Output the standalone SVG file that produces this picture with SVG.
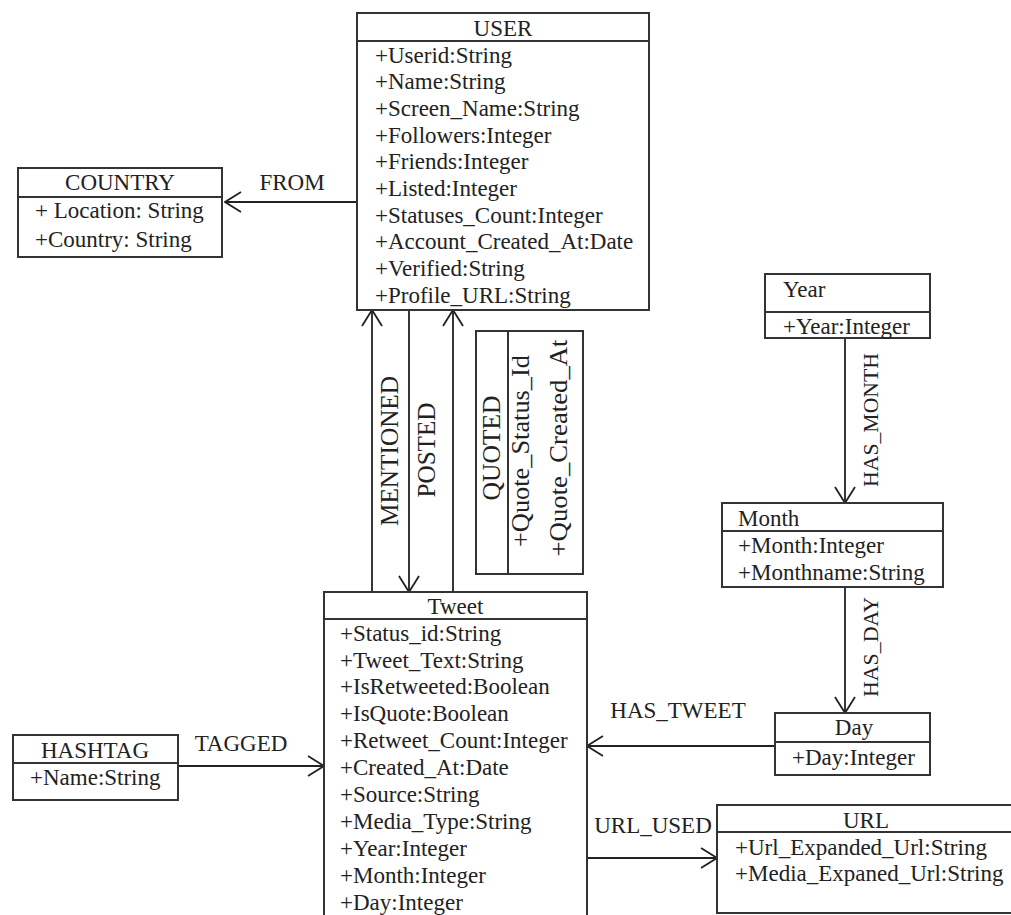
<svg xmlns="http://www.w3.org/2000/svg" width="1011" height="915" viewBox="0 0 1011 915">
<style>
text{font-family:"Liberation Serif","Times New Roman",serif;font-size:23px;fill:#222}
.box{fill:#fff;stroke:#333;stroke-width:2}
.div{stroke:#333;stroke-width:2;fill:none}
.c{text-anchor:middle}
.conn line{stroke:#222;stroke-width:1.8;fill:none}
.r{font-size:25px;text-anchor:middle}
.s{font-size:22px;text-anchor:middle}
</style>
<defs>
<marker id="arr" markerUnits="userSpaceOnUse" viewBox="0 0 18 22" markerWidth="18" markerHeight="22" refX="17" refY="11" orient="auto">
<path d="M1,1 L17,11 L1,21" fill="none" stroke="#222" stroke-width="1.8"/>
</marker>
</defs>
<rect width="1011" height="915" fill="#fff"/>

<g class="conn" id="connectors">
<line x1="357" y1="202" x2="225" y2="202" marker-end="url(#arr)"/>
<line x1="372" y1="592" x2="372" y2="310" marker-end="url(#arr)"/>
<line x1="409" y1="310" x2="409" y2="592" marker-end="url(#arr)"/>
<line x1="453" y1="592" x2="453" y2="310" marker-end="url(#arr)"/>
<line x1="845" y1="338" x2="845" y2="503" marker-end="url(#arr)"/>
<line x1="845" y1="587" x2="845" y2="713" marker-end="url(#arr)"/>
<line x1="775" y1="746" x2="587" y2="746" marker-end="url(#arr)"/>
<line x1="178" y1="766" x2="324" y2="766" marker-end="url(#arr)"/>
<line x1="587" y1="858" x2="717" y2="858" marker-end="url(#arr)"/>
<text class="c" x="292" y="190">FROM</text>
<text class="r" transform="translate(398,451) rotate(-90)" textLength="150" lengthAdjust="spacingAndGlyphs">MENTIONED</text>
<text class="r" transform="translate(435,450) rotate(-90)" textLength="95" lengthAdjust="spacingAndGlyphs">POSTED</text>
<text class="s" transform="translate(878,420) rotate(-90)" textLength="134" lengthAdjust="spacingAndGlyphs">HAS_MONTH</text>
<text class="s" transform="translate(878,647) rotate(-90)" textLength="100" lengthAdjust="spacingAndGlyphs">HAS_DAY</text>
<text class="c" x="678" y="717.6">HAS_TWEET</text>
<text class="c" x="241" y="750.6">TAGGED</text>
<text class="c" x="653" y="832.6">URL_USED</text>
</g>

<g id="quoted">
<rect class="box" x="476" y="331" width="107" height="243"/>
<line class="div" x1="508" y1="331" x2="508" y2="574"/>
<text class="r" transform="translate(500,448) rotate(-90)" textLength="105" lengthAdjust="spacingAndGlyphs">QUOTED</text>
<text class="r" transform="translate(529,451) rotate(-90)" textLength="192" lengthAdjust="spacingAndGlyphs">+Quote_Status_Id</text>
<text class="r" transform="translate(567,448) rotate(-90)" textLength="217" lengthAdjust="spacingAndGlyphs">+Quote_Created_At</text>
</g>

<g id="user">
<rect class="box" x="357" y="13" width="292" height="297"/>
<line class="div" x1="357" y1="41" x2="649" y2="41"/>
<text class="c" x="503" y="36">USER</text>
<text x="375" y="62.6">+Userid:String</text>
<text x="375" y="89.3">+Name:String</text>
<text x="375" y="115.9">+Screen_Name:String</text>
<text x="375" y="142.6">+Followers:Integer</text>
<text x="375" y="169.3">+Friends:Integer</text>
<text x="375" y="195.9">+Listed:Integer</text>
<text x="375" y="222.6">+Statuses_Count:Integer</text>
<text x="375" y="249.3">+Account_Created_At:Date</text>
<text x="375" y="275.9">+Verified:String</text>
<text x="375" y="302.6">+Profile_URL:String</text>
</g>

<g id="country">
<rect class="box" x="18" y="168" width="204" height="89"/>
<line class="div" x1="18" y1="197" x2="222" y2="197"/>
<text class="c" x="120" y="190">COUNTRY</text>
<text x="35" y="217.6">+ Location: String</text>
<text x="35" y="246.6">+Country: String</text>
</g>

<g id="year">
<rect class="box" x="765" y="274" width="165" height="64"/>
<line class="div" x1="765" y1="312" x2="930" y2="312"/>
<text x="783" y="296.6">Year</text>
<text x="783" y="333.6">+Year:Integer</text>
</g>

<g id="month">
<rect class="box" x="722" y="503" width="221" height="84"/>
<line class="div" x1="722" y1="531" x2="943" y2="531"/>
<text x="738" y="525.6">Month</text>
<text x="738" y="552.6">+Month:Integer</text>
<text x="738" y="579.6">+Monthname:String</text>
</g>

<g id="day">
<rect class="box" x="775" y="713" width="155" height="62"/>
<line class="div" x1="775" y1="742" x2="930" y2="742"/>
<text class="c" x="854" y="734.6">Day</text>
<text x="792" y="764.6">+Day:Integer</text>
</g>

<g id="tweet">
<rect class="box" x="324" y="592" width="263" height="340"/>
<line class="div" x1="324" y1="619" x2="587" y2="619"/>
<text class="c" x="455.5" y="613.6">Tweet</text>
<text x="340" y="640.6">+Status_id:String</text>
<text x="340" y="667.5">+Tweet_Text:String</text>
<text x="340" y="694.4">+IsRetweeted:Boolean</text>
<text x="340" y="721.3">+IsQuote:Boolean</text>
<text x="340" y="748.2">+Retweet_Count:Integer</text>
<text x="340" y="775.1">+Created_At:Date</text>
<text x="340" y="802">+Source:String</text>
<text x="340" y="828.9">+Media_Type:String</text>
<text x="340" y="855.8">+Year:Integer</text>
<text x="340" y="882.7">+Month:Integer</text>
<text x="340" y="909.6">+Day:Integer</text>
</g>

<g id="hashtag">
<rect class="box" x="13" y="735" width="165" height="65"/>
<line class="div" x1="13" y1="763" x2="178" y2="763"/>
<text class="c" x="95" y="757.6">HASHTAG</text>
<text x="30" y="784.6">+Name:String</text>
</g>

<g id="url">
<rect class="box" x="717" y="805" width="300" height="108"/>
<line class="div" x1="717" y1="832" x2="1017" y2="832"/>
<text class="c" x="866" y="827.6">URL</text>
<text x="735" y="854.6">+Url_Expanded_Url:String</text>
<text x="735" y="880.6">+Media_Expaned_Url:String</text>
</g>
</svg>
